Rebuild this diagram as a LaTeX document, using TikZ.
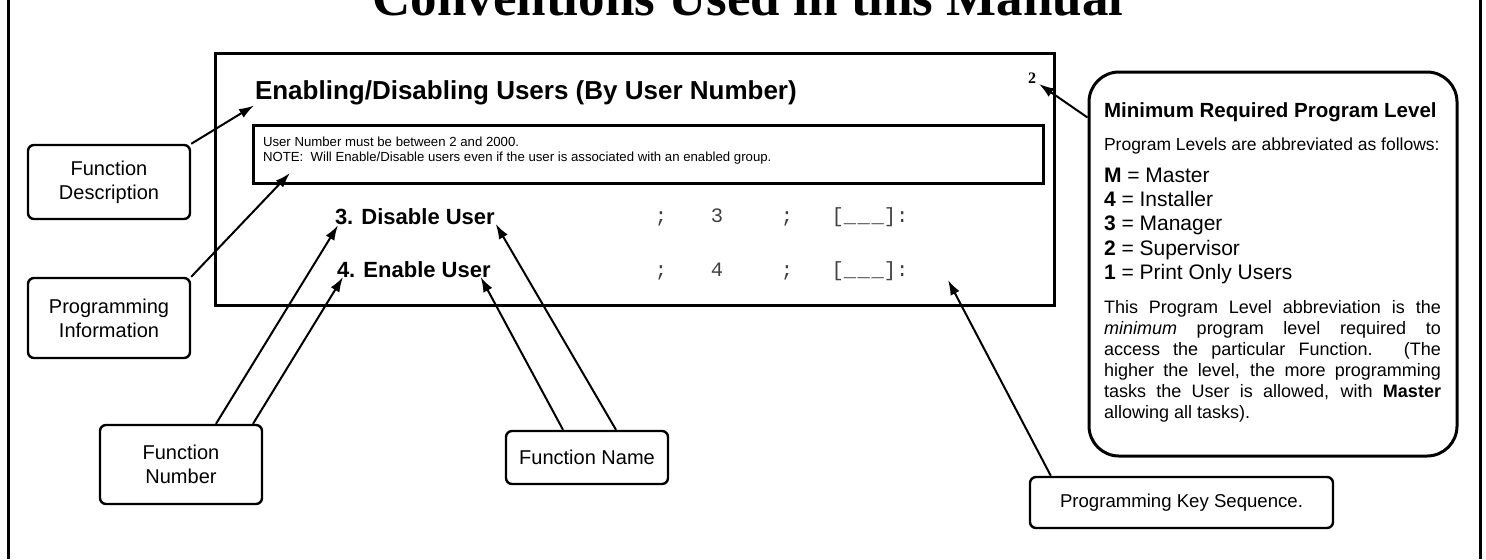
\documentclass[tikz,border=0pt]{standalone}
\usepackage{fontspec}
\setmainfont{Liberation Sans}
\setmonofont{Liberation Mono}
\newfontfamily\timesfont{Liberation Serif}
\usetikzlibrary{arrows.meta}
\newcommand{\fsz}[2]{\fontsize{#1}{#2}\selectfont}

\begin{document}
\begin{tikzpicture}[x=0.5pt, y=-0.5pt, line width=1pt, >={Latex[length=7.5pt,width=5pt]},
    label node/.style={draw, rounded corners=3pt, line width=1.2pt, align=center, inner sep=0pt, font=\fsz{10}{12}},
    plain node/.style={inner sep=0pt, anchor=base west},
    key node/.style={inner sep=0pt, anchor=base, text=black!75, font=\ttfamily\fsz{10.25}{12}}]
        \tikzstyle{every node}=[font=\fsz{10}{12}]

          \useasboundingbox (0,0) rectangle (1486,559);
          \draw[line width=1.5pt] (8,0) -- (8,559) (1480,0) -- (1480,559);
          \node[inner sep=0pt, anchor=base, font=\timesfont\bfseries\fsz{26.5}{30}] (0) at (748,15) {Conventions Used in this Manual};

          \draw[line width=1.5pt] (215,53) rectangle (1054,305);
          \draw[line width=1.5pt] (253,125) rectangle (1043,183);
          \node[plain node, font=\bfseries\fsz{13}{15}] (h) at (254,99) {Enabling/Disabling Users (By User Number)};
          \node[inner sep=0pt, anchor=base, font=\timesfont\bfseries\fsz{8}{9}] (lvl) at (1032,83) {2};
          \node[plain node, font=\fsz{6.6}{7.5}] (d1) at (262,146) {User Number must be between 2 and 2000.};
          \node[plain node, font=\fsz{6.6}{7.5}] (d2) at (262,161) {NOTE:\ \ Will Enable/Disable users even if the user is associated with an enabled group.};

          \node[plain node, font=\bfseries\fsz{11}{13}] (f3) at (334,224) {3. Disable User};
          \node[plain node, font=\bfseries\fsz{11}{13}] (f4) at (336,277) {4. Enable User};
          \foreach \n/\y in {3/222, 4/276} {
            \node[key node] (a\n) at (661,\y) {;};
            \node[key node] (b\n) at (717,\y) {\n};
            \node[key node] (c\n) at (787,\y) {;};
            \node[key node] (e\n) at (870,\y) {[\_\kern0.8pt\_\kern0.8pt\_]:};
          }

          \node[label node, minimum width=81pt, minimum height=37pt] (1) at (109,182) {Function\\Description};
          \node[label node, minimum width=81pt, minimum height=40pt] (2) at (109,318) {Programming\\Information};
          \node[label node, minimum width=81pt, minimum height=39.5pt] (3) at (181,464.5) {Function\\Number};
          \node[label node, minimum width=81pt, minimum height=26.5pt] (4) at (587,457.5) {Function Name};
          \node[label node, minimum width=151.5pt, minimum height=25.5pt, font=\fsz{9.3}{11}] (5) at (1181.5,502.5) {Programming Key Sequence.};

          \node[draw, rounded corners=15pt, line width=1.5pt, inner sep=0pt, minimum width=184pt, minimum height=192pt] (6) at (1273,264) {};
          \node[plain node, font=\bfseries\fsz{10.25}{12}] (7) at (1103,117) {Minimum Required Program Level};
          \node[plain node, font=\fsz{8.75}{10}] (8) at (1103,150) {Program Levels are abbreviated as follows:};
          \foreach \k/\t/\y in {M/Master/182, 4/Installer/206, 3/Manager/230, 2/Supervisor/255, 1/Print Only Users/279}
            \node[plain node, font=\fsz{10.5}{12}] (m\k) at (1103,\y) {\textbf{\k} = \t};
          \node[plain node, text width=168.5pt, align=justify, font=\fsz{9}{10.5}] (9) at (1103,313) {This Program Level abbreviation is the\linebreak \textit{minimum} program level required to\linebreak access the particular Function. (The\linebreak higher the level, the more programming\linebreak tasks the User is allowed, with \textbf{Master}\linebreak allowing all tasks).};

          \coordinate (10) at (290,173);
          \coordinate (11) at (948,280);

          \path[->]
            (1.north east) edge (h.south west)
            (2.north east) edge (10)
            ([xshift=17.5pt]3.north) edge ([xshift=2pt]f3.south west)
            ([xshift=36pt]3.north) edge ([xshift=3.5pt]f4.base west)
            ([xshift=14.5pt]4.north) edge (f3.base east)
            ([xshift=-12pt]4.north) edge ([xshift=-5.5pt]f4.base east)
            ([xshift=11pt]5.north west) edge (11)
            ([yshift=-23.5pt]6.north west) edge ([xshift=1pt]lvl.south east);

        \end{tikzpicture}
\end{document}
